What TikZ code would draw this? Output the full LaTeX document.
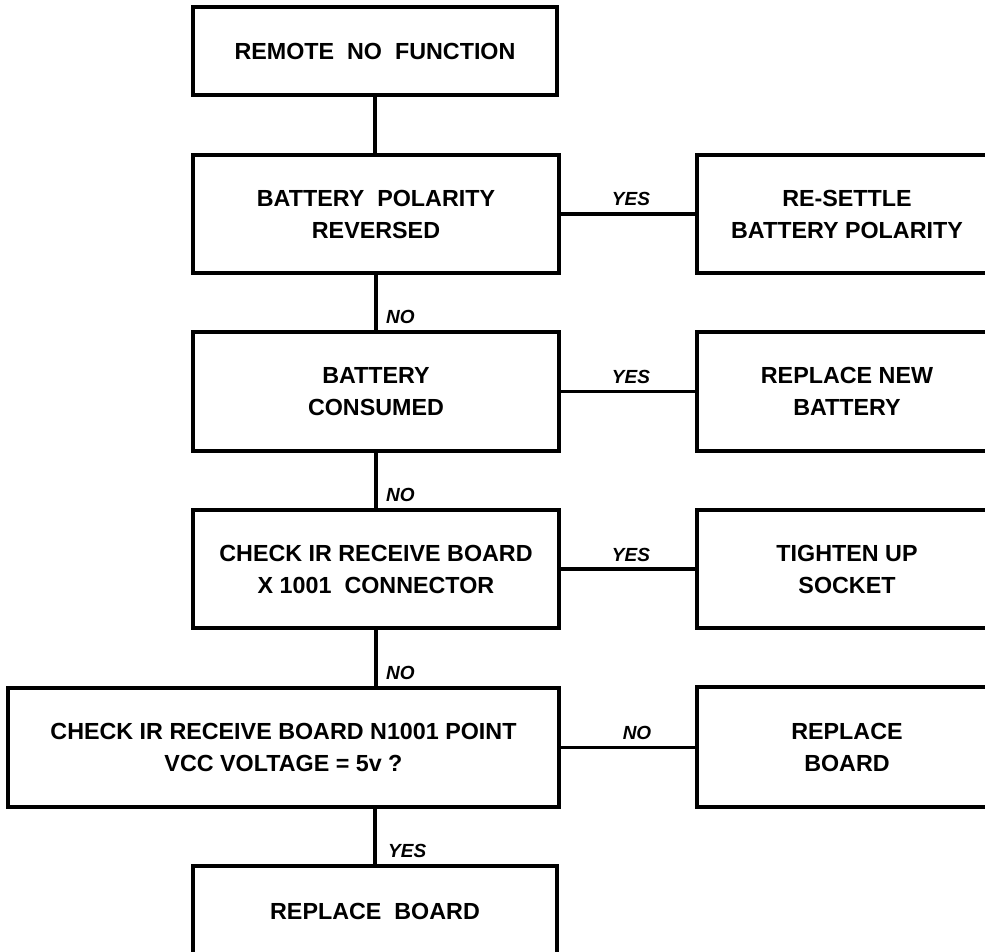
\documentclass[tikz,border=0pt]{standalone}
\usepackage{fontspec}
\setmainfont{Liberation Sans}
\begin{document}
\begin{tikzpicture}[x=1pt,y=-1pt,
  box/.style={draw,line width=3.6pt,rectangle,inner sep=0pt,align=center,
    font=\fontsize{23.3}{32}\selectfont\bfseries},
  lbl/.style={font=\fontsize{19}{20}\selectfont\bfseries\itshape,inner sep=0pt},
  conn/.style={line width=3.6pt}]
\clip (0,0) rectangle (985,951);
\useasboundingbox (0,0) rectangle (985,951);
% main column
\node[box,minimum width=364pt,minimum height=88pt] (b1) at (375,51) {REMOTE\ \ NO\ \ FUNCTION};
\node[box,minimum width=366pt,minimum height=118pt] (b2) at (376,214) {BATTERY\ \ POLARITY\\REVERSED};
\node[box,minimum width=366pt,minimum height=119pt] (b3) at (376,391.5) {BATTERY\\CONSUMED};
\node[box,minimum width=366pt,minimum height=118pt] (b4) at (376,569) {CHECK IR RECEIVE BOARD\\X 1001\ \ CONNECTOR};
\node[box,minimum width=551pt,minimum height=119pt] (b5) at (283.5,747.5) {CHECK IR RECEIVE BOARD N1001 POINT\\VCC VOLTAGE = 5v ?};
\node[box,minimum width=364pt,minimum height=90pt] (b6) at (375,911) {REPLACE\ \ BOARD};
% right column
\node[box,minimum width=300pt,minimum height=118pt] (r1) at (847,214) {RE-SETTLE\\BATTERY POLARITY};
\node[box,minimum width=300pt,minimum height=119pt] (r2) at (847,391.5) {REPLACE NEW\\BATTERY};
\node[box,minimum width=300pt,minimum height=118pt] (r3) at (847,569) {TIGHTEN UP\\SOCKET};
\node[box,minimum width=300pt,minimum height=120pt] (r4) at (847,747) {REPLACE\\BOARD};
% vertical connectors
\draw[conn] (b1.south) -- (b1.south |- b2.north);
\draw[conn] (b2.south) -- (b2.south |- b3.north);
\draw[conn] (b3.south) -- (b3.south |- b4.north);
\draw[conn] (b4.south) -- (b4.south |- b5.north);
\draw[conn] (b6.north) -- (b6.north |- b5.south);
% horizontal connectors
\draw[conn] (b2.east) -- (r1.west);
\draw[conn] (b3.east) -- (r2.west);
\draw[conn] (b4.east) -- (r3.west);
\draw[conn] (b5.east) -- (b5.east -| r4.west);
% labels
\node[lbl,anchor=south] (y1) at (631,206) {YES};
\node[lbl,anchor=south] (y2) at (631,384) {YES};
\node[lbl,anchor=south] (y3) at (631,562) {YES};
\node[lbl,anchor=south] (n4) at (637,740) {NO};
\node[lbl,anchor=south west] (n1) at (386,324) {NO};
\node[lbl,anchor=south west] (n2) at (386,502) {NO};
\node[lbl,anchor=south west] (n3) at (386,680) {NO};
\node[lbl,anchor=south west] (y5) at (388,858) {YES};
\end{tikzpicture}
\end{document}
